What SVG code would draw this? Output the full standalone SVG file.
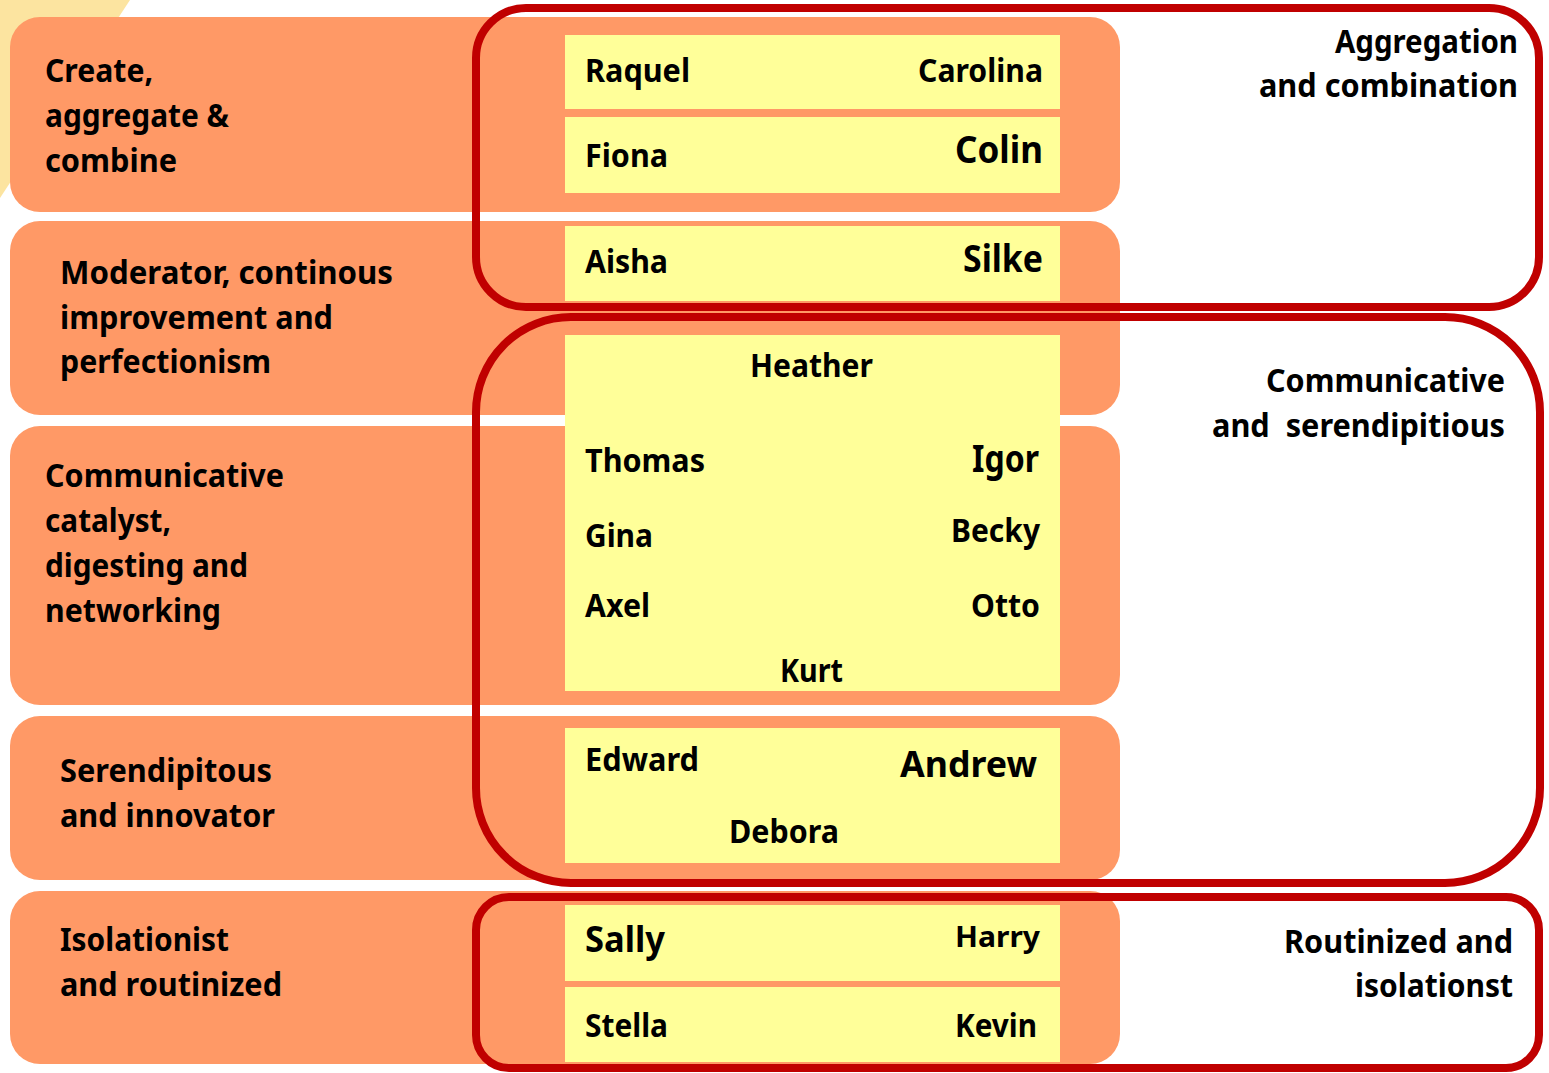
<svg xmlns="http://www.w3.org/2000/svg" width="1549" height="1073" viewBox="0 0 1549 1073">
<defs>
<style>
.bg{fill:#FFFFFF}
.row{fill:#FF9966}
.cell{fill:#FFFF99}
.grp{fill:none;stroke:#C00000;stroke-width:8}
text{font-family:"Noto Sans","Open Sans","Liberation Sans",sans-serif;font-weight:700;font-size:32px;fill:#000000}
.big{font-size:37px}
.small{font-size:29px}
</style>
</defs>
<rect class="bg" x="0" y="0" width="1549" height="1073"/>
<polygon id="deco" points="0,0 130,0 0,198" fill="#FCE4A0"/>

<g id="row-create">
<rect class="row" x="10" y="17" width="1110" height="195" rx="30"/>
<text x="45" y="82" textLength="108" lengthAdjust="spacingAndGlyphs">Create,</text>
<text x="45" y="127" textLength="184" lengthAdjust="spacingAndGlyphs">aggregate &amp;</text>
<text x="45" y="172" textLength="132" lengthAdjust="spacingAndGlyphs">combine</text>
</g>
<g id="row-moderator">
<rect class="row" x="10" y="221" width="1110" height="194" rx="30"/>
<text x="60" y="284" textLength="333" lengthAdjust="spacingAndGlyphs">Moderator, continous</text>
<text x="60" y="329" textLength="273" lengthAdjust="spacingAndGlyphs">improvement and</text>
<text x="60" y="373" textLength="211" lengthAdjust="spacingAndGlyphs">perfectionism</text>
</g>
<g id="row-communicative">
<rect class="row" x="10" y="426" width="1110" height="279" rx="30"/>
<text x="45" y="487" textLength="239" lengthAdjust="spacingAndGlyphs">Communicative</text>
<text x="45" y="532" textLength="126" lengthAdjust="spacingAndGlyphs">catalyst,</text>
<text x="45" y="577" textLength="203" lengthAdjust="spacingAndGlyphs">digesting and</text>
<text x="45" y="622" textLength="176" lengthAdjust="spacingAndGlyphs">networking</text>
</g>
<g id="row-serendipitous">
<rect class="row" x="10" y="716" width="1110" height="164" rx="30"/>
<text x="60" y="782" textLength="212" lengthAdjust="spacingAndGlyphs">Serendipitous</text>
<text x="60" y="827" textLength="215" lengthAdjust="spacingAndGlyphs">and innovator</text>
</g>
<g id="row-isolationist">
<rect class="row" x="10" y="891" width="1110" height="173" rx="30"/>
<text x="60" y="951" textLength="169" lengthAdjust="spacingAndGlyphs">Isolationist</text>
<text x="60" y="996" textLength="222" lengthAdjust="spacingAndGlyphs">and routinized</text>
</g>

<g id="cell-1">
<rect class="cell" x="565" y="35" width="495" height="74"/>
<text x="585" y="82" textLength="105" lengthAdjust="spacingAndGlyphs">Raquel</text>
<text x="918" y="82" textLength="125" lengthAdjust="spacingAndGlyphs">Carolina</text>
</g>
<g id="cell-2">
<rect class="cell" x="565" y="117" width="495" height="76"/>
<text x="585" y="167" textLength="83" lengthAdjust="spacingAndGlyphs">Fiona</text>
<text class="big" x="955" y="163" textLength="88" lengthAdjust="spacingAndGlyphs">Colin</text>
</g>
<g id="cell-3">
<rect class="cell" x="565" y="226" width="495" height="75"/>
<text x="585" y="273" textLength="83" lengthAdjust="spacingAndGlyphs">Aisha</text>
<text class="big" x="963" y="272" textLength="80" lengthAdjust="spacingAndGlyphs">Silke</text>
</g>
<g id="cell-4">
<rect class="cell" x="565" y="335" width="495" height="356"/>
<text x="750" y="377" textLength="123" lengthAdjust="spacingAndGlyphs">Heather</text>
<text x="585" y="472" textLength="120" lengthAdjust="spacingAndGlyphs">Thomas</text>
<text class="big" x="972" y="472" textLength="67" lengthAdjust="spacingAndGlyphs">Igor</text>
<text x="585" y="547" textLength="68" lengthAdjust="spacingAndGlyphs">Gina</text>
<text x="951" y="542" textLength="89" lengthAdjust="spacingAndGlyphs">Becky</text>
<text x="585" y="617" textLength="65" lengthAdjust="spacingAndGlyphs">Axel</text>
<text x="971" y="617" textLength="69" lengthAdjust="spacingAndGlyphs">Otto</text>
<text x="780" y="682" textLength="63" lengthAdjust="spacingAndGlyphs">Kurt</text>
</g>
<g id="cell-5">
<rect class="cell" x="565" y="728" width="495" height="135"/>
<text x="585" y="771" textLength="114" lengthAdjust="spacingAndGlyphs">Edward</text>
<text x="900" y="777" style="font-size:35px" textLength="137" lengthAdjust="spacingAndGlyphs">Andrew</text>
<text x="729" y="843" textLength="110" lengthAdjust="spacingAndGlyphs">Debora</text>
</g>
<g id="cell-6">
<rect class="cell" x="565" y="905" width="495" height="76"/>
<text class="big" x="585" y="952" style="font-size:36px" textLength="80" lengthAdjust="spacingAndGlyphs">Sally</text>
<text class="small" x="955" y="947" textLength="85" lengthAdjust="spacingAndGlyphs">Harry</text>
</g>
<g id="cell-7">
<rect class="cell" x="565" y="987" width="495" height="75"/>
<text x="585" y="1037" textLength="83" lengthAdjust="spacingAndGlyphs">Stella</text>
<text x="955" y="1037" textLength="82" lengthAdjust="spacingAndGlyphs">Kevin</text>
</g>

<g id="group-aggregation">
<rect class="grp" x="476" y="8" width="1063" height="299" rx="50"/>
<text x="1335" y="53" textLength="183" lengthAdjust="spacingAndGlyphs">Aggregation</text>
<text x="1259" y="97" textLength="259" lengthAdjust="spacingAndGlyphs">and combination</text>
</g>
<g id="group-communicative">
<rect class="grp" x="476" y="317" width="1064" height="566" rx="95"/>
<text x="1266" y="392" textLength="239" lengthAdjust="spacingAndGlyphs">Communicative</text>
<text x="1212" y="437" textLength="293" lengthAdjust="spacingAndGlyphs" xml:space="preserve">and  serendipitious</text>
</g>
<g id="group-routinized">
<rect class="grp" x="476" y="897" width="1063" height="171" rx="33"/>
<text x="1284" y="953" textLength="229" lengthAdjust="spacingAndGlyphs">Routinized and</text>
<text x="1355" y="997" textLength="158" lengthAdjust="spacingAndGlyphs">isolationst</text>
</g>
</svg>
